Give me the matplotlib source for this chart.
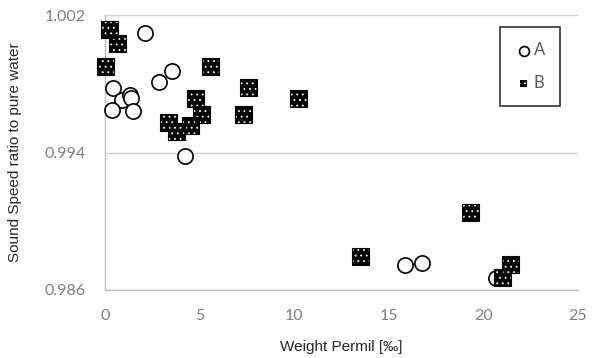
import matplotlib
matplotlib.use('Agg')
import matplotlib.pyplot as plt

plt.rcParams['hatch.linewidth'] = 0.6

# Series A (open circles)
a_x = [2.12, 3.55, 2.86, 0.42, 0.90, 1.32, 1.38, 0.37, 1.48, 4.24, 15.89, 16.74, 20.66]
a_y = [1.00095, 0.99874, 0.99810, 0.99776, 0.99706, 0.99735, 0.99717, 0.99648, 0.99642,
       0.99380, 0.98747, 0.98758, 0.98671]

# Series B (black dotted squares)
b_x = [0.26, 0.64, 0.00, 5.56, 7.59, 10.25, 4.77, 5.12, 7.30, 3.34, 3.76, 4.50,
       13.50, 19.33, 21.45, 21.03]
b_y = [1.00113, 1.00037, 0.99903, 0.99903, 0.99776, 0.99717, 0.99717, 0.99619, 0.99619,
       0.99572, 0.99520, 0.99560, 0.98793, 0.99049, 0.98747, 0.98671]

x_ticks = [0, 5, 10, 15, 20, 25]
y_ticks = [0.986, 0.994, 1.002]

fig = plt.figure(figsize=(5.95, 3.58), dpi=100)
ax = fig.add_axes([0.1765, 0.19, 0.7945, 0.768])

ax.scatter(a_x, a_y, s=120, marker='o', facecolor='white', edgecolor='black',
           linewidth=1.2, zorder=3, label='A', clip_on=False)
ax.scatter(b_x, b_y, s=150, marker='s', facecolor='black', edgecolor='white',
           hatch='...', linewidth=0, zorder=4, clip_on=False)
ax.scatter(b_x, b_y, s=150, marker='s', facecolor='none', edgecolor='black',
           linewidth=0.8, zorder=5, clip_on=False)
# legend proxy for B
ax.scatter([], [], s=60, marker='s', facecolor='black', edgecolor='white',
           hatch='...', linewidth=0, label='B')

ax.set_xlim(0, 25)
ax.set_ylim(0.986, 1.002)
ax.set_xticks(x_ticks)
ax.set_yticks(y_ticks)
ax.set_yticklabels([f'{v:.3f}' for v in y_ticks])

for lab in ax.get_xticklabels() + ax.get_yticklabels():
    lab.set_fontfamily('Lato')
    lab.set_fontsize(11.5)
    lab.set_color('#7f7f7f')
ax.tick_params(axis='y', length=0, pad=14)
ax.tick_params(axis='x', length=0, pad=14)

ax.grid(axis='y', color='#d0d0d0', linewidth=1)
ax.set_axisbelow(True)
for side in ['top', 'right']:
    ax.spines[side].set_visible(False)
for side in ['left', 'bottom']:
    ax.spines[side].set_color('#bfbfbf')
    ax.spines[side].set_linewidth(1)

ax.set_xlabel('Weight Permil [‰]', fontsize=11, family='Liberation Sans', color='#262626', labelpad=12)
ax.set_ylabel('Sound Speed ratio to pure water', fontsize=11, family='Liberation Sans',
              color='#262626', labelpad=16)

leg = ax.legend(loc='upper right', bbox_to_anchor=(0.98, 0.985), frameon=True, fancybox=False,
                handletextpad=0.1, labelspacing=1.0, borderpad=0.9, handlelength=1.0,
                markerscale=0.65, prop={'family': 'Lato', 'size': 12})
leg.get_frame().set_edgecolor('black')
leg.get_frame().set_linewidth(1.2)
for t in leg.get_texts():
    t.set_color('#595959')

fig.savefig('out.png', dpi=100)
